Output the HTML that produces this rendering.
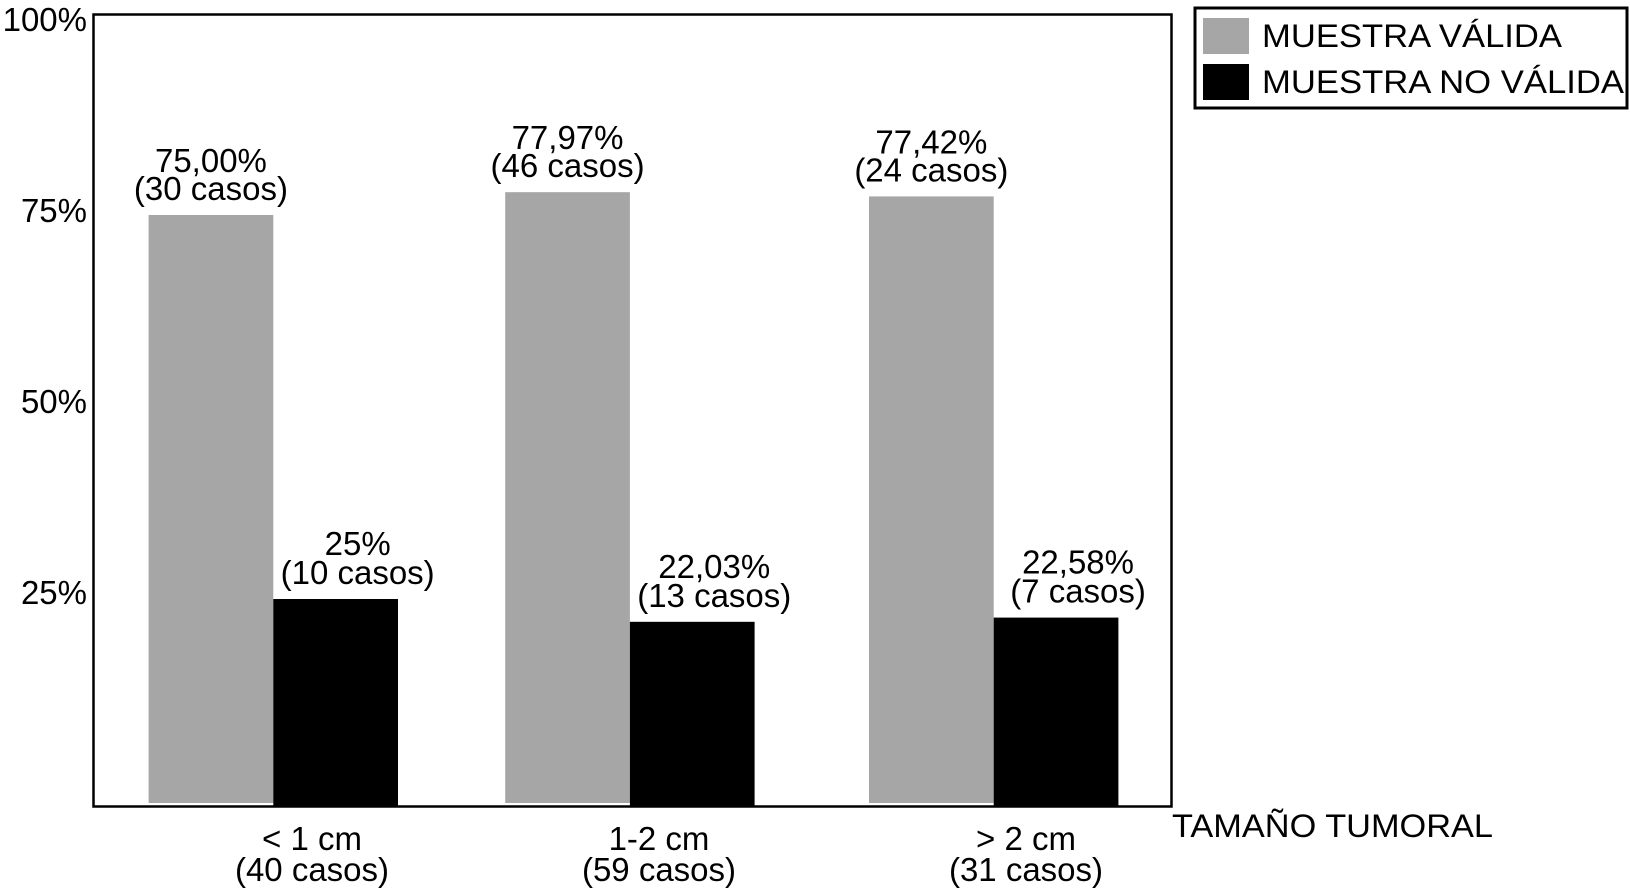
<!DOCTYPE html>
<html><head><meta charset="utf-8"><style>
html,body{margin:0;padding:0;background:#fff;}
svg{display:block;font-family:"Liberation Sans",Arial,sans-serif;}
</style></head><body>
<svg id="chart" width="1630" height="889" viewBox="0 0 1630 889" xmlns="http://www.w3.org/2000/svg">
<rect x="93.5" y="14.5" width="1078" height="792" fill="none" stroke="#000" stroke-width="2.5"/>
<g id="yticks"></g>
<g id="bars"></g>
<g id="xlabels"></g>
<text x="1172" y="837" font-size="32" textLength="321" lengthAdjust="spacingAndGlyphs">TAMAÑO TUMORAL</text>
<g>
<rect x="1195" y="8" width="432" height="100" fill="#fff" stroke="#000" stroke-width="3"/>
<rect x="1203" y="18" width="46" height="36" fill="#a6a6a6"/>
<text x="1262" y="47" font-size="32" textLength="300" lengthAdjust="spacingAndGlyphs">MUESTRA VÁLIDA</text>
<rect x="1203" y="64" width="46" height="36" fill="#000"/>
<text x="1262" y="93" font-size="32" textLength="362" lengthAdjust="spacingAndGlyphs">MUESTRA NO VÁLIDA</text>
</g>
</svg>
<script>
const categories = ["< 1 cm", "1-2 cm", "> 2 cm"];
const categoryCounts = ["(40 casos)", "(59 casos)", "(31 casos)"];
const validValues = [75.00, 77.97, 77.42];
const invalidValues = [25, 22.03, 22.58];
const validLabels = ["75,00%", "77,97%", "77,42%"];
const invalidLabels = ["25%", "22,03%", "22,58%"];
const validCases = ["(30 casos)", "(46 casos)", "(24 casos)"];
const invalidCases = ["(10 casos)", "(13 casos)", "(7 casos)"];
const yTicks = [100, 75, 50, 25];
const yTickLabels = ["100%", "75%", "50%", "25%"];

const NS = "http://www.w3.org/2000/svg";
const baseY = 806;
function y(v){ return 791 - 7.68*v; }
function tickY(v){ return 604 - (v-25)*7.64; }
const groupX = [148.6, 505.2, 869.0];
const barW = 124.7;
function mk(tag, attrs, parent){ const e=document.createElementNS(NS,tag); for(const k in attrs) e.setAttribute(k,attrs[k]); parent.appendChild(e); return e; }

const yt = document.getElementById('yticks');
yTicks.forEach((v,i)=>{
  const t = mk('text',{x:87,y:tickY(v),'font-size':33,'text-anchor':'end'},yt);
  t.textContent = yTickLabels[i];
  
  
});

const bars = document.getElementById('bars');
categories.forEach((c,i)=>{
  const gx = groupX[i];
  const g = mk('rect',{x:gx,y:y(validValues[i]),width:barW,height:baseY-3-y(validValues[i]),fill:'#a6a6a6'},bars);
  
  
  const b = mk('rect',{x:gx+barW,y:y(invalidValues[i]),width:barW,height:baseY-y(invalidValues[i]),fill:'#000'},bars);
  
  
  const cx1 = gx+barW/2, ty1 = y(validValues[i]);
  const a1 = mk('text',{x:cx1,y:ty1-43,'font-size':33,'text-anchor':'middle'},bars);
  a1.textContent = validLabels[i];
  
  
  const a2 = mk('text',{x:cx1,y:ty1-15,'font-size':33,'text-anchor':'middle'},bars);
  a2.textContent = validCases[i];
  
  
  const cx2 = gx+barW*1.5+22, ty2 = y(invalidValues[i]);
  const b1 = mk('text',{x:cx2,y:ty2-44,'font-size':33,'text-anchor':'middle'},bars);
  b1.textContent = invalidLabels[i];
  
  
  const b2 = mk('text',{x:cx2,y:ty2-15,'font-size':33,'text-anchor':'middle'},bars);
  b2.textContent = invalidCases[i];
  
  
});

const xl = document.getElementById('xlabels');
const catCenters = [312, 659, 1026];
categories.forEach((c,i)=>{
  const t1 = mk('text',{x:catCenters[i],y:850,'font-size':33,'text-anchor':'middle'},xl);
  t1.textContent = c;
  
  
  const t2 = mk('text',{x:catCenters[i],y:881,'font-size':33,'text-anchor':'middle'},xl);
  t2.textContent = categoryCounts[i];
  
  
});
</script>
</body></html>
